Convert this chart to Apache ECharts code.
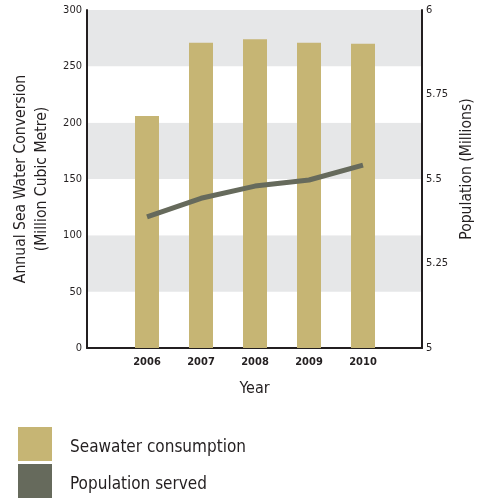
<!DOCTYPE html>
<html>
<head>
<meta charset="utf-8">
<script src="https://cdn.jsdelivr.net/npm/echarts@6/dist/echarts.min.js"></script>
<style>
  html, body { margin: 0; padding: 0; background: #ffffff; }
  #chart { width: 483px; height: 499px; }
</style>
</head>
<body>
<div id="chart"></div>
<script>
// Chart data
const years = ['2006', '2007', '2008', '2009', '2010'];
const seawaterConsumption = [206, 271, 274, 271, 270]; // million cubic metres
const populationServed = [5.388, 5.443, 5.479, 5.497, 5.541]; // millions
const leftTicks = [0, 300, 50];      // min, max, interval
const rightTicks = [5, 6, 0.25];     // min, max, interval

const FONT = "'DejaVu Sans Condensed', 'DejaVu Sans', sans-serif";
const INK = '#231f20';
const GOLD = '#c6b574';
const SLATE = '#666a5c';

const chart = echarts.init(document.getElementById('chart'), null, { renderer: 'canvas' });

const frame = { left: 87, right: 60, top: 10, bottom: 151 };
// Inner grid: the five year slots sit inside the framed area
const inner = { left: 120, right: 93, top: 10, bottom: 151 };

// One legend block per series, stacked vertically
function legendBlock(name, top) {
  return {
    left: 13,
    top: top,
    itemWidth: 34,
    itemHeight: 34,
    formatter: '{t|{name}}',
    textStyle: {
      fontFamily: FONT, fontSize: 17, color: INK, padding: [0, 0, 0, 13],
      rich: { t: { fontFamily: FONT, fontSize: 17, color: INK, padding: [7, 0, 0, 0] } }
    },
    data: [{ name: name, icon: 'rect' }]
  };
}

chart.setOption({
  animation: false,
  textStyle: { fontFamily: FONT },
  grid: [frame, inner],
  legend: [
    legendBlock('Seawater consumption', 422),
    legendBlock('Population served', 459)
  ],
  xAxis: [
    {
      gridIndex: 0,
      type: 'value',
      min: 0,
      max: 1,
      name: 'Year',
      nameLocation: 'middle',
      nameGap: 33,
      nameTextStyle: { fontFamily: FONT, fontSize: 16, color: INK },
      axisLine: { show: true, lineStyle: { color: INK, width: 2 } },
      axisTick: { show: false },
      axisLabel: { show: false },
      splitLine: { show: false }
    },
    {
      gridIndex: 1,
      type: 'category',
      data: years,
      axisLine: { show: false },
      axisTick: { show: false },
      axisLabel: { fontFamily: FONT, fontSize: 11, fontWeight: 'bold', color: INK, margin: 9 },
      splitLine: { show: false }
    }
  ],
  yAxis: [
    {
      gridIndex: 0,
      type: 'value',
      position: 'left',
      min: leftTicks[0],
      max: leftTicks[1],
      interval: leftTicks[2],
      name: 'Annual Sea Water Conversion\n(Million Cubic Metre)',
      nameLocation: 'middle',
      nameRotate: 90,
      nameGap: 33,
      nameTextStyle: { fontFamily: FONT, fontSize: 15.6, color: INK, lineHeight: 21 },
      axisLine: { show: true, lineStyle: { color: INK, width: 2 } },
      axisTick: { show: false },
      axisLabel: { fontFamily: FONT, fontSize: 11, color: INK, margin: 5, padding: [4, 0, 0, 0] },
      splitLine: { show: false },
      splitArea: { show: true, areaStyle: { color: ['#ffffff', '#e6e7e8'] } }
    },
    {
      gridIndex: 0,
      type: 'value',
      position: 'right',
      min: rightTicks[0],
      max: rightTicks[1],
      interval: rightTicks[2],
      name: 'Population (Millions)',
      nameLocation: 'middle',
      nameRotate: 90,
      nameGap: 32,
      nameTextStyle: { fontFamily: FONT, fontSize: 15.6, color: INK, padding: [0, 0, 0, 20] },
      axisLine: { show: true, lineStyle: { color: INK, width: 2 } },
      axisTick: { show: false },
      axisLabel: { fontFamily: FONT, fontSize: 11, color: INK, margin: 4, padding: [4, 0, 0, 0] },
      splitLine: { show: false }
    },
    { gridIndex: 1, type: 'value', min: leftTicks[0], max: leftTicks[1], show: false },
    { gridIndex: 1, type: 'value', min: rightTicks[0], max: rightTicks[1], show: false }
  ],
  series: [
    {
      name: 'Seawater consumption',
      type: 'bar',
      xAxisIndex: 1,
      yAxisIndex: 2,
      barWidth: 24,
      itemStyle: { color: GOLD },
      data: seawaterConsumption
    },
    {
      name: 'Population served',
      type: 'line',
      xAxisIndex: 1,
      yAxisIndex: 3,
      symbol: 'none',
      itemStyle: { color: SLATE },
      lineStyle: { color: SLATE, width: 5 },
      data: populationServed
    }
  ]
});
</script>
</body>
</html>
